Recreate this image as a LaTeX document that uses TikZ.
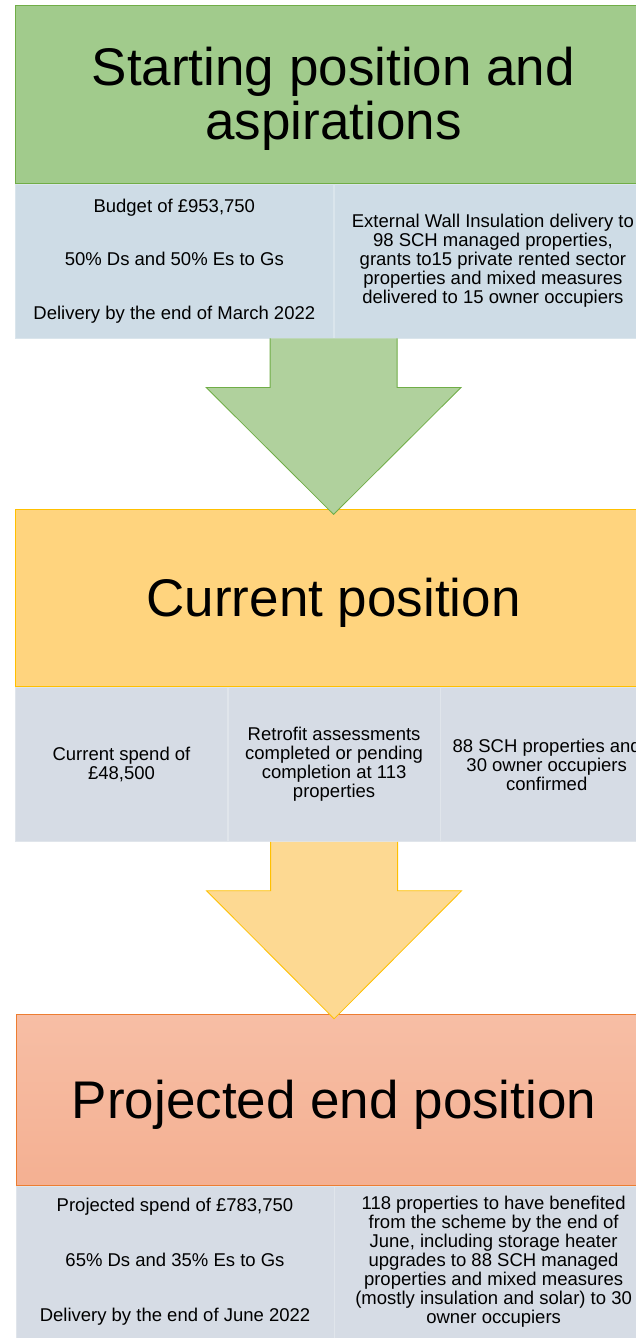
\documentclass[tikz,border=0pt]{standalone}
\usepackage{fontspec}
\setmainfont{Liberation Sans}
\usepackage{tikz}
\usetikzlibrary{positioning,calc}
\definecolor{greenhead}{RGB}{161,203,140}
\definecolor{greenarrow}{RGB}{176,209,157}
\definecolor{greenline}{RGB}{112,173,71}
\definecolor{goldhead}{RGB}{255,212,126}
\definecolor{goldarrow}{RGB}{253,217,146}
\definecolor{goldline}{RGB}{255,192,0}
\definecolor{salmontop}{RGB}{247,190,165}
\definecolor{salmonbot}{RGB}{244,176,146}
\definecolor{salmonline}{RGB}{237,125,49}
\definecolor{bluecellA}{RGB}{206,220,230}
\definecolor{bluecell}{RGB}{214,220,229}
\newcommand{\stagearrow}[3]{%
  \filldraw [#1] ($(#2)+(-63.5,0)$) -- ($(#2)+(-63.5,-49)$) -- ($(#2)+(-127.5,-49)$)
    -- (#3) -- ($(#2)+(127.5,-49)$) -- ($(#2)+(63.5,-49)$) -- ($(#2)+(63.5,0)$);}
\tikzstyle{stage} = [rectangle, minimum width=636pt, inner sep=0pt, line width=0.8pt, align=center, text depth=3pt, font=\fontsize{53}{54}\selectfont]
\tikzstyle{cell} = [rectangle, inner sep=0pt, align=center, line width=0.6pt, font=\fontsize{18.5}{19}\selectfont]
\tikzstyle{bluebox} = [cell, fill=bluecell, draw=white!25!bluecell]
\tikzstyle{downarrow} = [line width=0.8pt, line join=miter]

\begin{document}
\begin{tikzpicture}[x=1pt, y=1pt]
	\useasboundingbox (0,0) rectangle (636,-1338);
	\clip (0,0) rectangle (636,-1338);
	\node (start) [stage, fill=greenhead, draw=greenline, minimum height=178pt, anchor=north west] at (15,-5) {Starting position and\\aspirations};
	\node (budget) [cell, fill=bluecellA, draw=white!25!bluecellA, minimum width=318pt, minimum height=154pt, anchor=north west] at (start.south west) {Budget of £953,750\\[34.5pt]50\% Ds and 50\% Es to Gs\\[34.5pt]Delivery by the end of March 2022};
	\node (ewi) [cell, fill=bluecellA, draw=white!25!bluecellA, minimum width=318pt, minimum height=154pt, right=0pt of budget] {External Wall Insulation delivery to\\98 SCH managed properties,\\grants to15 private rented sector\\properties and mixed measures\\delivered to 15 owner occupiers};
	\node (current) [stage, fill=goldhead, draw=goldline, minimum height=177pt, below=171pt of budget.south east] {Current position};
	\node (spend) [bluebox, minimum width=212pt, minimum height=154pt, anchor=north west] at (current.south west) {Current spend of\\£48,500};
	\node (retrofit) [bluebox, minimum width=212pt, minimum height=154pt, right=0pt of spend] {Retrofit assessments\\completed or pending\\completion at 113\\properties};
	\node (confirmed) [bluebox, minimum width=212pt, minimum height=154pt, right=0pt of retrofit] {88 SCH properties and\\30 owner occupiers\\confirmed};
	\node (projected) [stage, top color=salmontop, bottom color=salmonbot, draw=salmonline, minimum height=171pt, text depth=0pt, below=172pt of retrofit.south] {Projected end position};
	\node (pspend) [bluebox, minimum width=318pt, minimum height=152pt, anchor=north west] at (projected.south west) {Projected spend of £783,750\\[36pt]65\% Ds and 35\% Es to Gs\\[36pt]Delivery by the end of June 2022};
	\node (benefit) [bluebox, minimum width=318pt, minimum height=152pt, right=0pt of pspend] {118 properties to have benefited\\from the scheme by the end of\\June, including storage heater\\upgrades to 88 SCH managed\\properties and mixed measures\\(mostly insulation and solar) to 30\\owner occupiers};
	\stagearrow{downarrow, fill=greenarrow, draw=greenline}{budget.south east}{$(current.north)+(0,-5)$}
	\stagearrow{downarrow, fill=goldarrow, draw=goldline}{retrofit.south}{$(projected.north)+(0,-5)$}
\end{tikzpicture}
\end{document}
